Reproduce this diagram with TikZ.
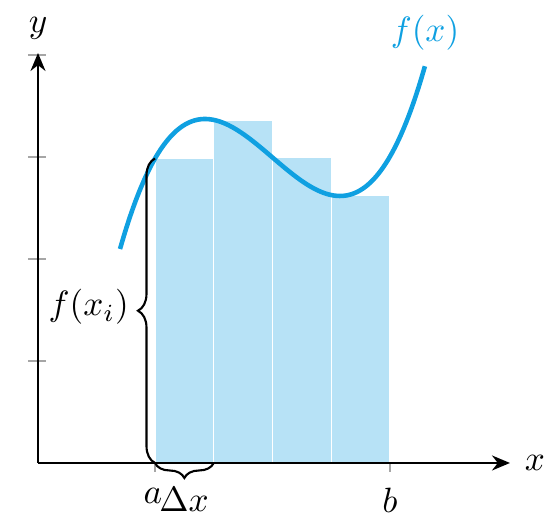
\documentclass[tikz,border=0pt]{standalone}
\usepackage{tikz}
\usetikzlibrary{arrows.meta,positioning,calc,decorations.pathreplacing}
\definecolor{sky}{RGB}{15,160,225}
\definecolor{ink}{RGB}{0,0,0}
\tikzset{
  >={Stealth[length=1.8mm,width=1.5mm]},
  axis/.style={->,semithick,draw=ink},
  tickmark/.style={draw=gray!70,thin},
  bar/.style={fill=sky!30,draw=white,thin},
  curve/.style={draw=sky,line width=1.3pt},
  brace/.style={decorate,semithick,decoration={brace,amplitude=#1}},
  brace/.default=1.7mm,
  lbl/.style={font=\normalsize,inner sep=1pt},
}

\begin{document}
\begin{tikzpicture}[declare function={f(\x)=4.10+1.878*((\x-2.05)^3/3-0.675*(\x-2.05)^2);}]
    \useasboundingbox (0,0) rectangle (5.59,5.29);
    % axes
    \coordinate (O) at (0.38,0.66);
    \coordinate (xend) at (5.10,0.66);
    \coordinate (yend) at (0.38,4.76);
    \coordinate (a) at (1.55,0.66);
    \coordinate (b) at (3.90,0.66);
    % rectangles (left sums)
    \foreach \i in {0,...,3}
      \fill[bar] ({1.55+\i*0.5875},0.66) rectangle ({1.55+(\i+1)*0.5875},{f(1.55+\i*0.5875)});
    \foreach \y in {1.68,2.70,3.72,4.74} \draw[tickmark] (0.28,\y) -- (0.46,\y);
    \draw[tickmark] (a) -- ++(0,-0.09);
    \draw[tickmark] (b) -- ++(0,-0.09);
    \draw[axis] (O) -- (xend);
    \draw[axis] (O) -- (yend);
    \node[lbl] (xlab) at (5.35,0.66) {$x$};
    \node[lbl] (ylab) at (0.38,5.01) {$y$};
    % function
    \draw[curve] plot[domain=1.20:4.25,samples=60,smooth] (\x,{f(\x)});
    \node[lbl,text=sky] (flab) at (4.25,4.96) {$f(x)$};
    % braces
    \coordinate (top) at (1.55,{f(1.55)});
    \coordinate (dxend) at (2.1375,0.66);
    \draw[brace] (a) -- (top);
    \draw[brace=1.5mm,decoration={mirror}] (a) -- (dxend);
    \node[lbl,anchor=east] (fxi) at (1.33,2.22) {$f(x_i)$};
    \node[lbl,anchor=base] (alab) at (1.53,0.25) {$a$};
    \node[lbl,anchor=base] (dxlab) at (1.84,0.17) {$\Delta x$};
    \node[lbl,anchor=base] (blab) at (3.90,0.16) {$b$};
  \end{tikzpicture}
\end{document}
